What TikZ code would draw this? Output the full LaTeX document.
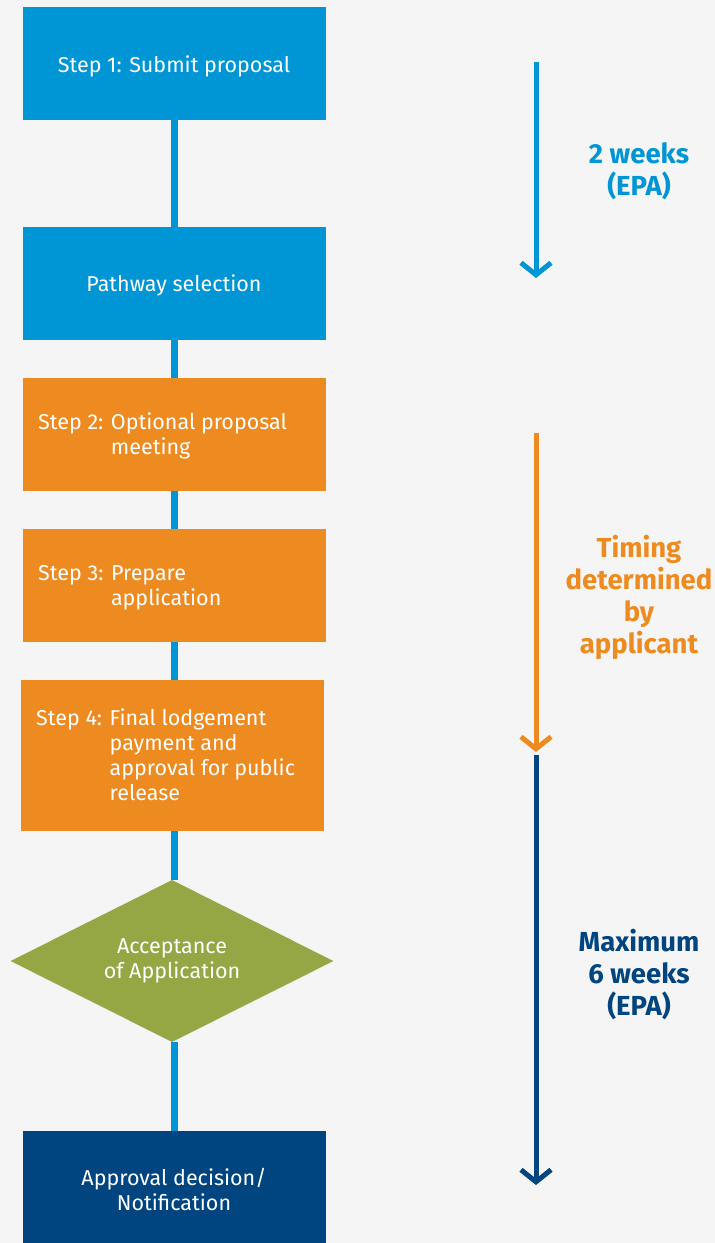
\documentclass[tikz,border=0pt]{standalone}
\usepackage{fontspec}
\setmainfont{Fira Sans}
\usetikzlibrary{shapes.geometric,arrows.meta}
\definecolor{cblue}{HTML}{0095D4}
\definecolor{corange}{HTML}{EE8B20}
\definecolor{cgreen}{HTML}{95A744}
\definecolor{cnavy}{HTML}{00457F}
\definecolor{cbg}{HTML}{F5F5F5}
\pgfdeclarelayer{bglayer}
\pgfdeclarelayer{connlayer}
\pgfsetlayers{bglayer,connlayer,main}
\begin{document}
\begin{tikzpicture}[x=1pt,y=-1pt,
  boxst/.style={draw=none,minimum width=303pt,minimum height=113pt,inner sep=0pt,anchor=north west},
  btext/.style={text=white,font=\fontsize{21.5}{25}\selectfont,align=left},
  side/.style={font=\fontsize{27.5}{32}\selectfont\bfseries,align=center},
  conn/.style={draw=cblue,line width=7pt},
  tarrow/.style={line width=5pt,-{Straight Barb[length=12pt,width=30pt]}}]
\begin{pgfonlayer}{bglayer}
\fill[cbg] (0,0) rectangle (715,1243);
\end{pgfonlayer}
\useasboundingbox (0,0) rectangle (715,1243);
% boxes
\node[boxst,fill=cblue] (b1) at (23,7) {};
\node[boxst,fill=cblue] (b2) at (23,227) {};
\node[boxst,fill=corange] (b3) at (23,378) {};
\node[boxst,fill=corange] (b4) at (23,529) {};
\node[boxst,fill=corange,minimum height=151pt] (b5) at (21,680) {};
\node[diamond,fill=cgreen,minimum width=323pt,minimum height=162pt,inner sep=0pt] (d) at (172,961) {};
\node[boxst,fill=cnavy,minimum height=120pt] (b6) at (23,1131) {};
% connectors
\begin{pgfonlayer}{connlayer}
\draw[conn] (b1.south -| 174,0) -- (b2.north -| 174,0);
\draw[conn] (b2.south -| 174,0) -- (b3.north -| 174,0);
\draw[conn] (b3.south -| 174,0) -- (b4.north -| 174,0);
\draw[conn] (b4.south -| 174,0) -- (b5.north -| 174,0);
\draw[conn] (b5.south -| 174,0) -- (d.north -| 174,0);
\draw[conn] (d.south -| 174,0) -- (b6.north -| 174,0);
\end{pgfonlayer}
% texts
\node[btext,align=center] (t1) at (174,66) {Step 1: Submit proposal};
\node[btext,align=center] (t2) at (174,285) {Pathway selection};
\node[btext,anchor=west,inner sep=0pt] (t3) at (38,436.5) {\begin{tabular}{@{}l@{ }l@{}}Step 2: & Optional proposal\\ & meeting\end{tabular}};
\node[btext,anchor=west,inner sep=0pt] (t4) at (38,587.5) {\begin{tabular}{@{}l@{ }l@{}}Step 3: & Prepare\\ & application\end{tabular}};
\node[btext,anchor=west,inner sep=0pt] (t5) at (36,757.5) {\begin{tabular}{@{}l@{ }l@{}}Step 4: & Final lodgement\\ & payment and\\ & approval for public\\ & release\end{tabular}};
\node[btext,align=center] (t6) at (172,961) {Acceptance\\of Application};
\node[btext,align=center] (t7) at (174,1189) {Approval decision/\\Notification};
% side arrows
\coordinate (a1s) at (536,62);
\coordinate (a1e) at (536,278);
\coordinate (a2s) at (536,433);
\coordinate (a2e) at (536,752);
\coordinate (a3s) at (536,755);
\coordinate (a3e) at (536,1185);
\draw[tarrow,cblue] (a1s) -- (a1e);
\draw[tarrow,cnavy] (a3s) -- (a3e);
\draw[tarrow,corange] (a2s) -- (a2e);
\node[side,text=cblue] (s1) at (639,171.5) {2 weeks\\(EPA)};
\node[side,text=corange] (s2) at (639,597) {Timing\\determined\\by\\applicant};
\node[side,text=cnavy] (s3) at (639,975) {Maximum\\6 weeks\\(EPA)};
\end{tikzpicture}
\end{document}
